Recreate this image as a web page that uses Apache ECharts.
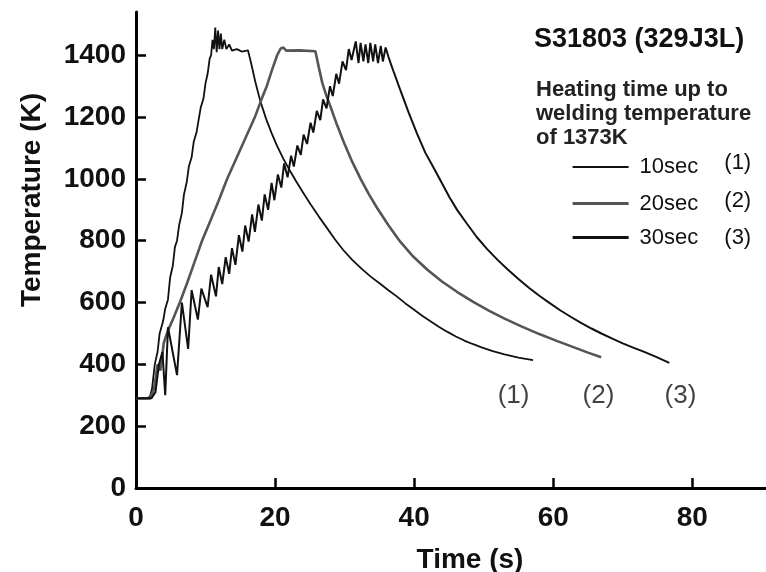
<!DOCTYPE html>
<html><head><meta charset="utf-8">
<script src="https://cdn.jsdelivr.net/npm/echarts@6/dist/echarts.min.js"></script>
<style>html,body{margin:0;padding:0;background:#fff}#c{width:766px;height:572px}</style>
</head><body><div id="c"></div>
<script>
// ---- data ----
const seriesNames = ['10sec', '20sec', '30sec'];
const seriesTags = ['(1)', '(2)', '(3)'];
const t1 = [0,1.5,2.0,2.3,2.7,3.1,3.4,3.9,4.2,4.6,4.9,5.3,5.6,5.9,6.2,6.6,6.9,7.3,7.6,8.0,8.3,8.7,9.0,9.3,9.7,10.0,10.3,10.6,10.8,11.0,11.2,11.4,11.6,11.8,12.0,12.2,12.4,12.7,13.0,13.4,13.8,14.5,15.2,16.1,16.6,17.2,17.9,18.7,19.5,20.3,21.2,22.1,23.0,24.0,25.1,26.3,27.5,28.6,29.8,31.1,32.5,33.8,35.2,36.3,37.5,38.7,39.9,41.1,42.4,43.6,44.8,46.0,47.2,48.4,49.6,51.3,53.0,55.0,57.1];
const temp1 = [290,290,295,320,400,440,500,540,580,610,680,720,780,800,850,890,950,990,1040,1070,1120,1150,1190,1230,1260,1310,1340,1390,1400,1450,1420,1490,1410,1480,1420,1470,1420,1450,1420,1435,1415,1420,1412,1416,1370,1310,1250,1195,1148,1106,1065,1028,993,957,918,878,840,805,770,738,708,683,659,640,620,598,578,558,539,521,505,490,477,466,456,443,432,422,414];
const t2 = [0,2.0,2.6,3.1,3.5,4.0,4.6,5.3,6.3,7.3,8.4,9.5,10.7,11.9,13.1,14.1,15.1,16.1,17.1,18.0,18.8,19.6,20.3,20.8,21.2,21.6,23.5,25.8,26.3,26.8,27.4,28.0,28.9,29.9,31.1,32.3,33.5,34.7,36.3,38.0,39.9,41.9,44.0,46.2,48.5,50.8,53.0,55.5,58.0,60.5,63.0,65.0,66.9];
const temp2 = [290,290,320,400,380,470,510,545,600,660,730,800,865,930,1000,1050,1100,1150,1200,1255,1300,1355,1400,1422,1425,1415,1416,1413,1360,1310,1268,1232,1175,1118,1055,1000,950,905,850,797,748,706,668,634,602,573,548,522,498,476,455,438,423];
const t3 = [0,2.2,2.8,3.3,3.8,4.2,4.6,5.9,6.6,7.5,8.0,8.9,9.4,10.3,10.8,11.5,11.9,12.4,12.9,13.4,13.8,14.3,14.8,15.3,15.7,16.2,16.7,17.1,17.6,18.1,18.5,19.0,19.5,19.9,20.4,20.9,21.3,21.8,22.3,22.7,23.2,23.7,24.1,24.6,25.1,25.5,26.0,26.5,26.9,27.4,27.9,28.3,28.8,29.2,29.7,30.2,30.6,31.0,31.6,32.0,32.3,32.7,33.0,33.4,33.7,34.1,34.4,34.8,35.2,35.5,35.9,36.3,37.0,38.0,39.2,40.4,41.6,42.8,44.0,45.1,46.2,47.6,49.0,50.5,52.0,53.5,55.0,56.5,58.0,59.5,61.0,62.5,64.0,65.5,67.0,68.5,70.0,71.5,73.0,74.8,76.7];
const temp3 = [290,290,310,400,440,300,520,365,600,450,640,545,645,585,690,620,715,660,747,693,776,722,818,765,849,797,885,829,917,865,950,900,987,931,1014,972,1050,1005,1075,1040,1108,1078,1143,1113,1182,1150,1220,1190,1257,1228,1300,1268,1340,1308,1380,1352,1420,1385,1445,1375,1440,1380,1435,1375,1440,1380,1435,1375,1430,1380,1425,1395,1350,1288,1215,1147,1085,1036,986,940,899,855,812,773,738,706,676,648,622,598,575,554,534,516,499,483,468,454,441,424,405];
const tagX = [54.3, 66.5, 78.3];
const tagY = [297, 297, 297];
const xTicks = [0, 20, 40, 60, 80];
const yTicks = [0, 200, 400, 600, 800, 1000, 1200, 1400];
const titleText = 'S31803 (329J3L)';
const noteLines = ['Heating time up to', 'welding temperature', 'of 1373K'];
const xName = 'Time (s)';
const yName = 'Temperature (K)';

// ---- chart ----
const FONT = '"Liberation Sans", Arial, sans-serif';
const pairs = (xs, ys) => xs.map((x, i) => [x, ys[i]]);
const chart = echarts.init(document.getElementById('c'), null, {renderer: 'canvas'});
const lineColors = ['#111', '#555', '#111'];
const lineWidths = [1.8, 2.6, 2.0];
const legendWidths = [2, 3.2, 3];
const curves = [pairs(t1, temp1), pairs(t2, temp2), pairs(t3, temp3)];
const tagRich = {
  b0: {fontSize: 22, fontFamily: FONT, color: '#111', padding: [0, 0, 8, 26]},
  b1: {fontSize: 22, fontFamily: FONT, color: '#111', padding: [0, 0, 5, 26]},
  b2: {fontSize: 22, fontFamily: FONT, color: '#111', padding: [0, 0, 0, 26]},
  a: {fontSize: 22, fontFamily: FONT, color: '#111', padding: [0, 0, 0, 6]}
};
const option = {
  animation: false,
  backgroundColor: '#fff',
  title: [
    {text: titleText, left: 529, top: 21, textStyle: {fontFamily: FONT, fontSize: 27, fontWeight: 'bold', color: '#111'}},
    {text: noteLines.join('\n'), left: 531, top: 73, textStyle: {fontFamily: FONT, fontSize: 22, fontWeight: 'bold', color: '#222', lineHeight: 24}}
  ],
  legend: {
    orient: 'vertical', left: 566, top: 147, itemWidth: 56, itemHeight: 14, itemGap: 12,
    data: seriesNames.map((n, i) => ({name: n, lineStyle: {width: legendWidths[i], color: lineColors[i]}})),
    selectedMode: false,
    itemStyle: {opacity: 0, borderWidth: 0},
    formatter: name => { const i = seriesNames.indexOf(name); return '{a|' + name + '}{b' + i + '|' + seriesTags[i] + '}'; },
    textStyle: {fontFamily: FONT, fontSize: 22, color: '#111', rich: tagRich}
  },
  grid: {left: 136, right: 0, top: 12, bottom: 84, outerBoundsMode: 'none', containLabel: false},
  xAxis: {
    type: 'value', min: 0, max: 90.6,
    axisLine: {show: true, lineStyle: {color: '#000', width: 3}},
    axisTick: {show: true, inside: true, length: 10, customValues: xTicks, lineStyle: {color: '#000', width: 2.5}},
    axisLabel: {customValues: xTicks, formatter: v => String(v), fontFamily: FONT, fontSize: 28, fontWeight: 'bold', color: '#111', margin: 16},
    splitLine: {show: false},
    name: xName, nameLocation: 'middle', nameGap: 58,
    nameTextStyle: {fontFamily: FONT, fontSize: 28, fontWeight: 'bold', color: '#111', padding: [0, 0, 0, 38]}
  },
  yAxis: {
    type: 'value', min: 0, max: 1540,
    axisLine: {show: true, lineStyle: {color: '#000', width: 3}},
    axisTick: {show: true, inside: true, length: 10, customValues: yTicks, lineStyle: {color: '#000', width: 2.5}},
    axisLabel: {customValues: yTicks, formatter: v => String(v), fontFamily: FONT, fontSize: 28, fontWeight: 'bold', color: '#111', margin: 10},
    splitLine: {show: false},
    name: yName, nameLocation: 'middle', nameGap: 90, nameRotate: 90,
    nameTextStyle: {fontFamily: FONT, fontSize: 28, fontWeight: 'bold', color: '#111', padding: [0, 0, 0, 100]}
  },
  series: curves.map((d, i) => ({
    name: seriesNames[i], type: 'line', data: d, showSymbol: false, symbol: 'none', silent: true,
    lineStyle: {color: lineColors[i], width: lineWidths[i]}, itemStyle: {color: lineColors[i]}
  })).concat([{
    type: 'scatter', silent: true, symbolSize: 1, itemStyle: {color: 'rgba(0,0,0,0)'},
    data: tagX.map((x, i) => [x, tagY[i]]),
    label: {show: true, position: 'inside', formatter: p => seriesTags[p.dataIndex], fontFamily: FONT, fontSize: 26, color: '#111'}
  }])
};
chart.setOption(option);
</script></body></html>
